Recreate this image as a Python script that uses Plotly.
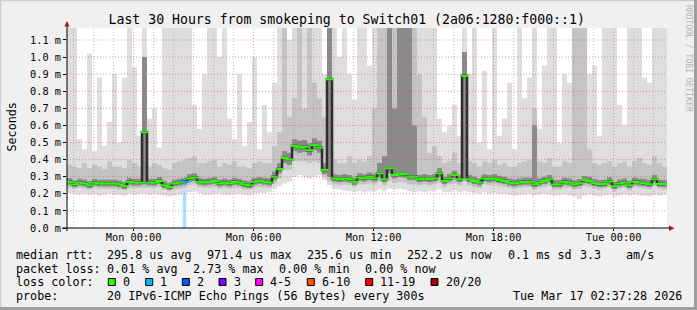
import plotly.graph_objects as go
from datetime import datetime, timedelta

# ---------------- data ----------------
# 15-minute columns starting Sun 2026-03-15 20:40, values in microseconds
T0 = datetime(2026, 3, 15, 20, 40)
STEP = timedelta(minutes=15)
SPAN = timedelta(hours=30)

median_us = [
    270, 255, 265, 260, 250, 265, 260, 260, 260, 260,
    255, 245, 270, 265, 265, 560, 265, 265, 275, 250,
    240, 260, 265, 270, 290, 295, 270, 265, 270, 275,
    260, 265, 260, 270, 265, 255, 250, 270, 275, 270,
    265, 300, 345, 410, 400, 480, 470, 475, 455, 485,
    470, 340, 870, 290, 285, 290, 285, 270, 295, 290,
    300, 290, 320, 285, 350, 310, 320, 315, 300, 300,
    285, 290, 285, 290, 320, 275, 290, 310, 285, 890,
    285, 275, 265, 290, 285, 290, 280, 275, 265, 260,
    265, 270, 270, 255, 265, 275, 285, 255, 255, 270,
    265, 255, 262, 280, 275, 262, 256, 258, 272, 245,
    260, 265, 250, 270, 265, 262, 256, 285, 258, 256,
]

smoke_min_us = [
    205, 200, 195, 200, 195, 200, 190, 195, 200, 195,
    195, 190, 200, 195, 200, 200, 195, 200, 195, 190,
    185, 190, 195, 200, 210, 215, 205, 195, 195, 200,
    200, 195, 195, 200, 200, 195, 190, 200, 205, 205,
    210, 230, 245, 260, 270, 300, 310, 300, 290, 300,
    310, 280, 250, 230, 225, 220, 215, 210, 215, 210,
    215, 215, 225, 215, 230, 225, 230, 225, 215, 210,
    215, 210, 215, 215, 225, 210, 210, 220, 210, 215,
    210, 205, 200, 210, 200, 205, 200, 200, 195, 190,
    195, 195, 200, 190, 195, 200, 195, 190, 190, 195,
    190, 185, 170, 190, 195, 190, 185, 190, 195, 185,
    190, 195, 190, 195, 190, 190, 185, 195, 190, 195,
]

smoke_max_us = [
    1170, 1170, 520, 460, 1020, 450, 880, 480, 620, 900,
    500, 880, 1170, 940, 540, 1170, 640, 700, 470, 1170,
    1170, 1170, 1170, 1170, 1170, 720, 580, 900, 1170, 1170,
    1000, 1170, 640, 520, 900, 480, 620, 1000, 460, 720,
    560, 850, 1170, 1170, 1100, 1170, 1170, 1170, 1170, 1170,
    1170, 900, 1170, 1170, 1000, 1170, 900, 750, 1170, 1170,
    950, 1170, 1170, 1170, 1170, 1170, 1170, 1170, 1170, 1170,
    1170, 1170, 1170, 1170, 640, 560, 600, 720, 540, 1170,
    900, 1170, 500, 920, 460, 1170, 540, 640, 850, 460,
    1170, 760, 880, 1170, 580, 950, 1170, 1170, 500, 900,
    850, 1170, 1170, 1170, 900, 950, 540, 1170, 1170, 1170,
    720, 600, 1170, 1170, 1170, 880, 850, 1170, 1170, 1170,
]

mid_lo_us = [
    235, 230, 235, 230, 225, 235, 230, 230, 230, 230,
    225, 220, 235, 235, 235, 235, 235, 235, 240, 225,
    215, 225, 230, 235, 250, 255, 240, 235, 235, 240,
    230, 235, 230, 235, 235, 225, 225, 235, 240, 235,
    235, 260, 290, 340, 340, 390, 390, 390, 380, 390,
    380, 300, 270, 255, 250, 255, 250, 240, 255, 255,
    260, 255, 270, 250, 280, 265, 270, 265, 255, 255,
    250, 255, 250, 255, 265, 240, 255, 260, 250, 270,
    250, 240, 235, 255, 250, 255, 245, 240, 235, 230,
    235, 240, 240, 225, 235, 240, 250, 225, 225, 235,
    235, 225, 230, 245, 240, 230, 225, 228, 240, 215,
    230, 235, 220, 240, 235, 232, 225, 250, 228, 226,
]

mid_hi_us = [
    370, 360, 350, 380, 350, 370, 360, 345, 390, 360,
    360, 350, 400, 380, 360, 1000, 360, 380, 370, 350,
    340, 380, 390, 400, 410, 420, 380, 380, 390, 400,
    360, 380, 370, 390, 360, 360, 350, 380, 390, 380,
    380, 480, 560, 1170, 650, 760, 1170, 700, 1170, 850,
    760, 650, 1170, 400, 380, 380, 420, 380, 400, 390,
    420, 700, 1170, 1170, 1170, 1170, 1170, 1170, 1170, 1170,
    900, 650, 440, 480, 420, 380, 390, 440, 380, 1030,
    390, 380, 360, 390, 380, 400, 370, 380, 360, 360,
    380, 390, 400, 700, 390, 380, 410, 360, 360, 390,
    380, 1170, 1170, 1170, 460, 380, 370, 380, 390, 360,
    380, 390, 360, 390, 410, 380, 370, 420, 380, 360,
]

dark_lo_us = [
    252, 238, 248, 243, 233, 248, 243, 243, 243, 243,
    238, 228, 253, 248, 248, 255, 248, 248, 258, 233,
    223, 243, 248, 253, 270, 275, 253, 248, 253, 258,
    243, 248, 243, 253, 248, 238, 233, 253, 258, 253,
    248, 280, 320, 380, 370, 450, 440, 445, 425, 455,
    440, 315, 300, 272, 267, 272, 267, 252, 277, 272,
    280, 272, 298, 267, 320, 290, 298, 295, 280, 280,
    267, 272, 267, 272, 298, 257, 272, 290, 267, 285,
    267, 257, 248, 272, 267, 272, 262, 257, 248, 243,
    248, 253, 253, 238, 248, 257, 267, 238, 238, 253,
    248, 238, 245, 262, 257, 245, 239, 241, 255, 228,
    243, 248, 233, 253, 248, 245, 239, 267, 241, 239,
]

dark_hi_us = [
    292, 278, 288, 283, 273, 288, 283, 283, 283, 283,
    278, 268, 293, 288, 288, 1000, 288, 288, 298, 273,
    263, 283, 288, 293, 315, 320, 293, 288, 293, 298,
    283, 288, 283, 293, 288, 278, 273, 293, 298, 293,
    290, 330, 380, 450, 440, 520, 510, 515, 495, 525,
    510, 380, 1170, 315, 310, 315, 310, 295, 320, 315,
    325, 315, 380, 420, 1170, 700, 1170, 1170, 1170, 600,
    310, 315, 310, 315, 350, 300, 315, 335, 310, 1030,
    310, 300, 290, 315, 310, 315, 305, 300, 290, 285,
    290, 295, 295, 600, 290, 300, 310, 280, 280, 295,
    290, 280, 287, 305, 300, 287, 281, 283, 297, 270,
    285, 290, 275, 295, 290, 287, 281, 310, 283, 281,
]

loss_cnt = [
    0, 0, 0, 0, 0, 0, 0, 0, 0, 0,
    0, 0, 0, 0, 0, 0, 0, 0, 0, 0,
    0, 0, 0, 1, 0, 0, 0, 0, 0, 0,
    0, 0, 0, 0, 0, 0, 0, 0, 0, 0,
    0, 0, 0, 0, 0, 0, 0, 0, 0, 0,
    0, 0, 0, 0, 0, 0, 0, 0, 0, 0,
    0, 0, 0, 0, 0, 0, 0, 0, 0, 0,
    0, 0, 0, 0, 0, 0, 0, 0, 0, 0,
    0, 0, 0, 0, 0, 0, 0, 0, 0, 0,
    0, 0, 0, 0, 0, 0, 0, 0, 0, 0,
    0, 0, 0, 0, 0, 0, 0, 0, 0, 0,
    0, 0, 0, 0, 0, 0, 0, 0, 0, 0,
]

y_tick_vals = [0.0, 0.1, 0.2, 0.3, 0.4, 0.5, 0.6, 0.7, 0.8, 0.9, 1.0, 1.1]
y_tick_text = ["0.0 m", "0.1 m", "0.2 m", "0.3 m", "0.4 m", "0.5 m",
               "0.6 m", "0.7 m", "0.8 m", "0.9 m", "1.0 m", "1.1 m"]
x_tick_vals = ["2026-03-16 00:00", "2026-03-16 06:00", "2026-03-16 12:00",
               "2026-03-16 18:00", "2026-03-17 00:00"]
x_tick_text = ["Mon 00:00", "Mon 06:00", "Mon 12:00", "Mon 18:00", "Tue 00:00"]

loss_levels = ["0", "1", "2", "3", "4-5", "6-10", "11-19", "20/20"]
loss_colors = ["#26ff00", "#00b8ff", "#0059ff", "#7e00ff", "#ff00ff", "#ff5500", "#ff0000", "#a10000"]
loss_upper = [0, 1, 2, 3, 5, 10, 19, 20]

stats_rtt = ["295.8 us avg", "971.4 us max", "235.6 us min", "252.2 us now", "0.1 ms sd", "3.3", "am/s"]
stats_loss = ["0.01 % avg", "2.73 % max", "0.00 % min", "0.00 % now"]
probe_text = "20 IPv6-ICMP Echo Pings (56 Bytes) every 300s"
stamp_text = "Tue Mar 17 02:37:28 2026"
title_text = "Last 30 Hours from smokeping to Switch01 (2a06:1280:f000::1)"

# ---------------- figure ----------------
MONO = "DejaVu Sans Mono"
W, H = 697, 310
L, R, T, B = 67, 667, 28, 228  # plot area in pixels


def px2x(px):
    return (px - L) / (R - L)


def py2y(py):
    return (B - py) / (B - T)


n = len(median_us)
centers = [T0 + STEP * (i + 0.5) for i in range(n)]
step_ms = STEP.total_seconds() * 1000

fig = go.Figure()


def band(lo, hi, color):
    fig.add_trace(go.Bar(
        x=centers, base=[a / 1000 for a in lo],
        y=[(b - a) / 1000 for a, b in zip(lo, hi)],
        width=step_ms, marker=dict(color=color, line=dict(width=0)),
        hoverinfo="skip", showlegend=False))


band(smoke_min_us, smoke_max_us, "#dedede")
band(mid_lo_us, mid_hi_us, "#c4c4c4")
band(dark_lo_us, dark_hi_us, "#8a8a8a")


def loss_color(c):
    for up, col in zip(loss_upper, loss_colors):
        if c <= up:
            return col
    return loss_colors[-1]


loss_idx = [i for i, c in enumerate(loss_cnt) if c > 0]
fig.add_trace(go.Bar(
    x=[centers[i] for i in loss_idx], base=0,
    y=[smoke_min_us[i] / 1000 + 0.02 for i in loss_idx],
    width=step_ms * 0.7, marker=dict(color="#a6e2fb", line=dict(width=0)),
    hoverinfo="skip", showlegend=False))

med_ms = [v / 1000 for v in median_us]
fig.add_trace(go.Scatter(x=centers, y=med_ms, mode="lines",
                         line=dict(color="#2e2e2e", width=2.5, shape="hvh"),
                         hoverinfo="skip", showlegend=False))
fig.add_trace(go.Scatter(x=centers, y=med_ms, mode="markers",
                         marker=dict(symbol="line-ew", size=6,
                                     line=dict(width=2, color=[loss_color(c) for c in loss_cnt])),
                         hoverinfo="skip", showlegend=False))

shapes = []
# grid drawn over the smoke (rrdtool style)
for v in y_tick_vals[1:]:
    shapes.append(dict(type="line", xref="paper", yref="y", x0=0, x1=1, y0=v, y1=v,
                       line=dict(color="rgba(215,70,70,0.55)", width=1, dash="1px,2px"), layer="above"))
h = datetime(2026, 3, 15, 21, 0)
while h < T0 + SPAN:
    major = h.hour % 6 == 0
    shapes.append(dict(type="line", xref="x", yref="paper", x0=h, x1=h, y0=0, y1=1,
                       line=dict(color="rgba(215,70,70,0.55)" if major else "rgba(150,150,150,0.6)",
                                 width=1, dash="1px,2px"), layer="above"))
    h += timedelta(hours=1)

# axes with arrows
shapes.append(dict(type="line", xref="paper", yref="paper", x0=px2x(62), x1=px2x(670),
                   y0=0, y1=0, line=dict(color="#000", width=1), layer="above"))
shapes.append(dict(type="line", xref="paper", yref="paper", x0=0, x1=0,
                   y0=py2y(231), y1=py2y(24), line=dict(color="#000", width=1), layer="above"))
shapes.append(dict(type="path", xref="paper", yref="paper",
                   path="M %f %f L %f %f L %f %f Z" % (px2x(64.5), py2y(26.5), px2x(69.5), py2y(26.5), px2x(67), py2y(21)),
                   fillcolor="#a01818", line=dict(width=0), layer="above"))
shapes.append(dict(type="path", xref="paper", yref="paper",
                   path="M %f %f L %f %f L %f %f Z" % (px2x(669), py2y(225.5), px2x(669), py2y(231), px2x(674.5), py2y(228.2)),
                   fillcolor="#a01818", line=dict(width=0), layer="above"))

# frame
shapes.append(dict(type="line", xref="paper", yref="paper", x0=px2x(0), x1=px2x(W), y0=py2y(0.5), y1=py2y(0.5),
                   line=dict(color="#cfcfcf", width=1.5)))
shapes.append(dict(type="line", xref="paper", yref="paper", x0=px2x(0.5), x1=px2x(0.5), y0=py2y(0), y1=py2y(H),
                   line=dict(color="#cfcfcf", width=1.5)))
shapes.append(dict(type="line", xref="paper", yref="paper", x0=px2x(W - 1.5), x1=px2x(W - 1.5), y0=py2y(0), y1=py2y(H),
                   line=dict(color="#9e9e9e", width=3)))
shapes.append(dict(type="line", xref="paper", yref="paper", x0=px2x(0), x1=px2x(W), y0=py2y(H - 1.5), y1=py2y(H - 1.5),
                   line=dict(color="#9e9e9e", width=3)))

annotations = []


def text(s, px, py, size=11.73, color="#000", anchor="left", angle=0):
    annotations.append(dict(text=s, xref="paper", yref="paper", x=px2x(px), y=py2y(py),
                            xanchor=anchor, yanchor="middle", showarrow=False, textangle=angle,
                            borderpad=0, borderwidth=0,
                            font=dict(family=MONO, size=size, color=color)))


text("Seconds", 11, 127.5, angle=-90, anchor="center")
text("RRDTOOL / TOBI OETIKER", 688.5, 58.5, size=8.07, color="#b4b4b4", angle=90, anchor="center")

row_y = [255, 268.5, 282, 295.5]
text("median rtt:", 15.5, row_y[0])
for s, px in zip(stats_rtt, [106.5, 206.5, 307, 406.5, 507.5, 579.5, 626]):
    text(s, px, row_y[0])
text("packet loss:", 15.5, row_y[1])
for s, px in zip(stats_loss, [106.5, 193, 278.5, 364.5]):
    text(s, px, row_y[1])
text("loss color:", 15.5, row_y[2])
box_x = [108.3, 145.7, 182.3, 219, 255.7, 307.3, 365.7, 431]
for lab, col, bx in zip(loss_levels, loss_colors, box_x):
    shapes.append(dict(type="rect", xref="paper", yref="paper",
                       x0=px2x(bx), x1=px2x(bx + 7), y0=py2y(285.5), y1=py2y(278.5),
                       fillcolor=col, line=dict(color="#000", width=1)))
    text(lab, bx + 14.5, row_y[2])
text("probe:", 15.5, row_y[3])
text(probe_text, 106.5, row_y[3])
text(stamp_text, 512.5, row_y[3])

axfont = dict(family=MONO, size=10.27, color="#000")
fig.update_layout(
    width=W, height=H,
    margin=dict(l=L, r=W - R, t=T, b=H - B, autoexpand=False),
    paper_bgcolor="#f0f0f0", plot_bgcolor="#ffffff",
    barmode="overlay", showlegend=False,
    title=dict(text=title_text, x=346.7 / W, xanchor="center", y=1 - 19 / H, yanchor="middle",
               font=dict(family=MONO, size=13.2, color="#000")),
    xaxis=dict(type="date", range=[T0, T0 + SPAN], showgrid=False, zeroline=False, showline=False,
               tickmode="array", tickvals=x_tick_vals, ticktext=x_tick_text,
               ticks="outside", ticklen=2, tickcolor="#000", tickfont=axfont,
               ticklabelstandoff=-2),
    yaxis=dict(range=[0, 1.17], showgrid=False, zeroline=False, showline=False,
               tickmode="array", tickvals=y_tick_vals, ticktext=y_tick_text,
               ticks="outside", ticklen=3, tickcolor="#000", tickfont=axfont),
    shapes=shapes, annotations=annotations,
)

fig.write_html("out.html")
